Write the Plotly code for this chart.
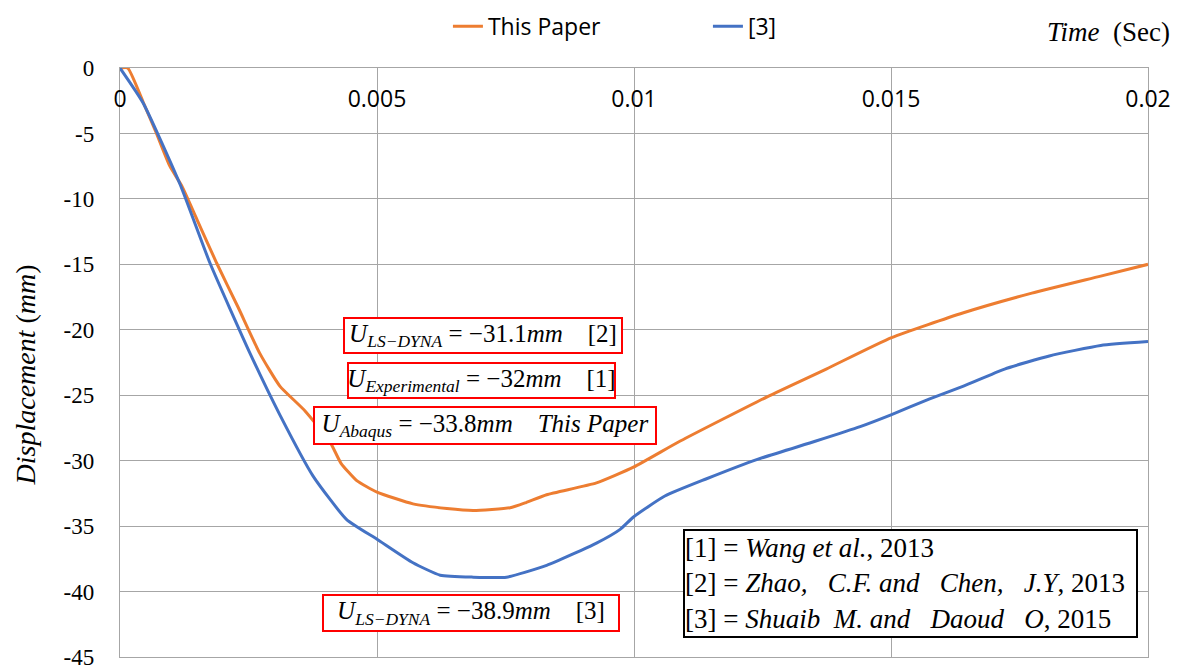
import plotly.graph_objects as go

# Mid-span displacement histories (time in seconds, displacement in mm)
time_paper = [0, 0.00015, 0.00045, 0.0007, 0.00097, 0.0012, 0.0015, 0.00188, 0.0023,
              0.00272, 0.00311, 0.0036, 0.00409, 0.0043, 0.0046, 0.0050, 0.0057,
              0.00636, 0.00687, 0.00759, 0.0079, 0.0083, 0.00927, 0.00999, 0.0109,
              0.0126, 0.01374, 0.01501, 0.01641, 0.01774, 0.01908, 0.0200]
disp_paper = [0, 0, -2.6, -4.9, -7.5, -9.0, -11.6, -14.9, -18.3,
              -21.8, -24.3, -26.2, -28.6, -30.2, -31.5, -32.4, -33.3,
              -33.65, -33.8, -33.6, -33.2, -32.6, -31.7, -30.5, -28.5,
              -25.1, -23.0, -20.6, -18.7, -17.2, -15.9, -15.0]

time_ref3 = [0, 0.00045, 0.00117, 0.00175, 0.00253, 0.00311, 0.00376, 0.00441, 0.0050,
             0.0057, 0.00623, 0.00687, 0.00752, 0.0083, 0.00927, 0.00973, 0.00999,
             0.0106, 0.0114, 0.0124, 0.01354, 0.0144, 0.0150, 0.01574, 0.01641,
             0.01721, 0.01808, 0.01908, 0.0200]
disp_ref3 = [0, -2.67, -8.9, -14.9, -21.8, -26.5, -31.2, -34.5, -36.0,
             -37.8, -38.75, -38.9, -38.9, -38.0, -36.3, -35.25, -34.3,
             -32.7, -31.4, -29.9, -28.5, -27.4, -26.5, -25.3, -24.3,
             -23.0, -22.0, -21.2, -20.9]

x_ticks = [0, 0.005, 0.01, 0.015, 0.02]
x_ticktext = ["0", "0.005", "0.01", "0.015", "0.02"]
y_ticks = [-45, -40, -35, -30, -25, -20, -15, -10, -5, 0]
y_ticktext = [str(v) for v in y_ticks]

NB = "\u00a0"
reference_lines = [
    "[1] = <i>Wang et al.</i>, 2013",
    f"[2] = <i>Zhao,{NB}{NB} C.F. and{NB}{NB} Chen,{NB}{NB} J.Y</i>, 2013",
    f"[3] = <i>Shuaib{NB} M. and{NB}{NB} Daoud{NB}{NB} O</i>, 2015",
]

ORANGE = "#ED7D31"
BLUE = "#4472C4"
GRID = "#A6A6A6"
SERIF = "Liberation Serif"
SANS = "Open Sans"

fig = go.Figure()
fig.add_trace(go.Scatter(x=time_paper, y=disp_paper, mode="lines", name="This Paper",
                         line=dict(color=ORANGE, width=3, shape="spline", smoothing=0.5)))
fig.add_trace(go.Scatter(x=time_ref3, y=disp_ref3, mode="lines", name="[3]",
                         line=dict(color=BLUE, width=3, shape="spline", smoothing=0.5)))

peak_paper = min(disp_paper)
peak_ref3 = min(disp_ref3)
SP = NB * 4


def box(text, x, y, w, h, color="red", size=25, align="center"):
    fig.add_annotation(x=x, y=y, xref="x", yref="y", text=text, showarrow=False,
                       xanchor="center", yanchor="middle", align=align,
                       width=w, height=h, bgcolor="white", bordercolor=color,
                       borderwidth=2, borderpad=0,
                       font=dict(family=SERIF, size=size, color="black"))


box(f"<i>U</i><sub><i>LS\u2212DYNA</i></sub> = \u221231.1<i>mm</i>{SP}[2]",
    0.00706, -20.44, 276, 33)
box(f"<i>U</i><sub><i>Experimental</i></sub> = \u221232<i>mm</i>{SP}[1]",
    0.00703, -23.87, 265, 33)
box(f"<i>U</i><sub><i>Abaqus</i></sub> = \u2212{abs(peak_paper):.1f}<i>mm</i>{SP}<i>This Paper</i>",
    0.00710, -27.31, 340, 35)
box(f"<i>U</i><sub><i>LS\u2212DYNA</i></sub> = \u2212{abs(peak_ref3):.1f}<i>mm</i>{SP}[3]",
    0.00683, -41.63, 294, 34)
box("<br>".join(reference_lines), 0.01538, -39.38, 451, 105,
    color="black", size=27, align="left")

# axis captions
fig.add_annotation(text=f"<i>Displacement</i>{NB}(<i>mm</i>)", xref="paper", yref="paper",
                   x=-0.0924, y=0.478, textangle=-90, showarrow=False,
                   xanchor="center", yanchor="middle",
                   font=dict(family=SERIF, size=28, color="black"))
fig.add_annotation(text=f"<i>Time</i>{NB} (Sec)", xref="paper", yref="paper",
                   x=1.0233, y=1.061, showarrow=False, xanchor="right", yanchor="middle",
                   font=dict(family=SERIF, size=27, color="black"))

fig.update_layout(
    width=1178, height=666,
    margin=dict(l=120, r=30, t=68, b=9, autoexpand=False),
    paper_bgcolor="white", plot_bgcolor="white",
    showlegend=True,
    legend=dict(orientation="h", x=0.319, xanchor="left", y=1.071, yanchor="middle",
                font=dict(family=SANS, size=23, color="black"),
                entrywidth=215, bgcolor="rgba(0,0,0,0)"),
    xaxis=dict(range=[0, 0.02], side="top", tickvals=x_ticks, ticktext=x_ticktext,
               ticklabelposition="inside", ticklabeloverflow="allow",
               ticklabelstandoff=24, ticks="", automargin=False,
               tickfont=dict(family=SANS, size=23, color="black"),
               showgrid=True, gridcolor=GRID, gridwidth=1.3,
               showline=True, linecolor=GRID, linewidth=1.3, mirror=True,
               zeroline=False),
    yaxis=dict(range=[-45, 0], tickvals=y_ticks, ticktext=y_ticktext, ticks="",
               ticklabelstandoff=20, ticklabeloverflow="allow", automargin=False,
               tickfont=dict(family=SERIF, size=23, color="black"),
               showgrid=True, gridcolor=GRID, gridwidth=1.3,
               showline=True, linecolor=GRID, linewidth=1.3, mirror=True,
               zeroline=False),
)

fig.write_html("out.html")
